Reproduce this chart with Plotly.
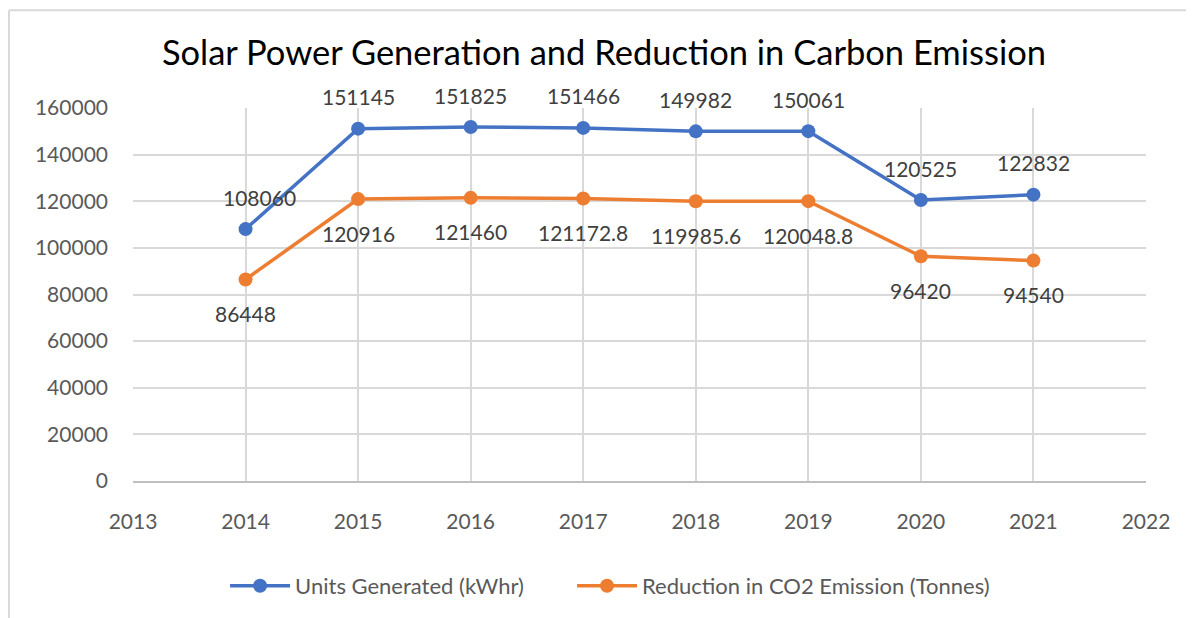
import plotly.graph_objects as go

years = [2014, 2015, 2016, 2017, 2018, 2019, 2020, 2021]
units_generated = [108060, 151145, 151825, 151466, 149982, 150061, 120525, 122832]
co2_reduction = [86448, 120916, 121460, 121172.8, 119985.6, 120048.8, 96420, 94540]
units_labels = ["108060", "151145", "151825", "151466", "149982", "150061", "120525", "122832"]
co2_labels = ["86448", "120916", "121460", "121172.8", "119985.6", "120048.8", "96420", "94540"]

FONT = "Lato, 'Open Sans', sans-serif"
TXT = "#404040"
BLUE = "#4472C4"
ORANGE = "#ED7D31"

fig = go.Figure()
fig.add_trace(go.Scatter(
    x=years, y=units_generated, name="Units Generated (kWhr)",
    mode="lines+markers", legend="legend",
    line=dict(color=BLUE, width=3.5), marker=dict(size=14, color=BLUE),
    cliponaxis=False,
))
fig.add_trace(go.Scatter(
    x=years, y=co2_reduction, name="Reduction in CO2 Emission (Tonnes)",
    mode="lines+markers", legend="legend2",
    line=dict(color=ORANGE, width=3.5), marker=dict(size=14, color=ORANGE),
    cliponaxis=False,
))

annotations = []
for i, (xv, yv, t) in enumerate(zip(years, units_generated, units_labels)):
    annotations.append(dict(x=xv, y=yv, text=t, showarrow=False, yshift=32,
                            xshift=14 if i == 0 else 0,
                            font=dict(size=21, color=TXT, family=FONT)))
for xv, yv, t in zip(years, co2_reduction, co2_labels):
    annotations.append(dict(x=xv, y=yv, text=t, showarrow=False, yshift=-34,
                            font=dict(size=21, color=TXT, family=FONT)))

legend_style = dict(orientation="h", xanchor="left", y=-0.278, yanchor="middle",
                    font=dict(size=22, color="#595959"), itemwidth=60,
                    bgcolor="rgba(0,0,0,0)")

fig.update_layout(
    width=1186, height=610,
    margin=dict(l=125, r=48, t=100, b=136),
    paper_bgcolor="white", plot_bgcolor="white",
    font=dict(family=FONT, color="#595959", size=21),
    title=dict(text="Solar Power Generation and Reduction in Carbon Emission",
               x=0.5025, xanchor="center", y=0.926, yanchor="middle",
               font=dict(size=34.5, color="black", family=FONT)),
    xaxis=dict(range=[2013, 2022], tickmode="linear", tick0=2013, dtick=1,
               showgrid=True, gridcolor="#d9d9d9", gridwidth=1.5,
               showline=True, linecolor="#bfbfbf", linewidth=2,
               zeroline=False, ticks="", ticklabelstandoff=21,
               tickfont=dict(size=21, color="#595959")),
    yaxis=dict(range=[0, 160000], tickmode="linear", tick0=0, dtick=20000,
               showgrid=True, gridcolor="#d9d9d9", gridwidth=1.5,
               zeroline=False, showline=False, ticks="", ticklabelstandoff=24,
               tickformat="d",
               tickfont=dict(size=21, color="#595959")),
    legend=dict(x=0.0909, **legend_style),
    legend2=dict(x=0.4334, **legend_style),
    showlegend=True,
    annotations=annotations,
    shapes=[
        dict(type="line", xref="paper", yref="paper", x0=-0.1224, x1=1.1, y0=1.262, y1=1.262,
             line=dict(color="#d9d9d9", width=2)),
        dict(type="line", xref="paper", yref="paper", x0=-0.1224, x1=-0.1224, y0=1.262, y1=-0.4,
             line=dict(color="#d9d9d9", width=2)),
    ],
)

fig.write_html("out.html")
